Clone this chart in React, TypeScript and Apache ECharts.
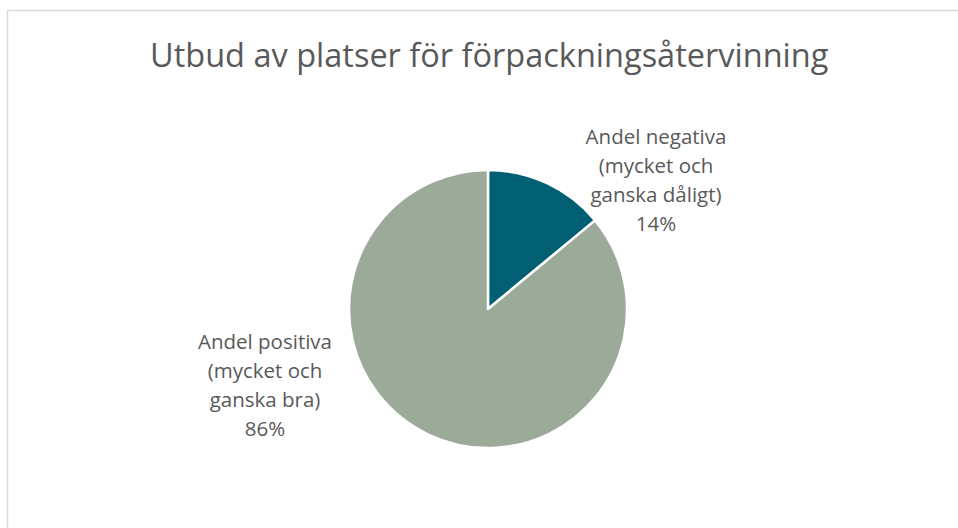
import React, { useEffect, useRef } from "react";
import * as echarts from "echarts";

const TITLE = "Utbud av platser för förpackningsåtervinning";
const categories = [
  "Andel negativa\n(mycket och\nganska dåligt)",
  "Andel positiva\n(mycket och\nganska bra)",
];
const values = [14, 86];
const colors = ["#005F73", "#9BAA99"];
const labelAnchors = [
  [656, 179],
  [265, 384],
];

export default function App() {
  const ref = useRef<HTMLDivElement>(null);
  useEffect(() => {
    if (!ref.current) return;
    const chart = echarts.init(ref.current, null, { renderer: "svg" });
    chart.setOption({
      animation: false,
      backgroundColor: "#ffffff",
      title: {
        text: TITLE,
        left: 145,
        top: 33,
        textStyle: {
          fontFamily: "Open Sans",
          fontSize: 32.5,
          fontWeight: "normal",
          color: "#595959",
        },
      },
      graphic: [
        {
          type: "rect",
          shape: { x: 7.5, y: 10.5, width: 1000, height: 600 },
          style: { fill: "none", stroke: "#d9d9d9", lineWidth: 1.5 },
          silent: true,
        },
      ],
      series: [
        {
          type: "pie",
          center: [488, 309],
          radius: 139,
          startAngle: 90,
          clockwise: true,
          itemStyle: { borderColor: "#ffffff", borderWidth: 2.5 },
          label: {
            show: true,
            position: "outside",
            formatter: "{b}\n{c}%",
            fontFamily: "Open Sans",
            fontSize: 20.5,
            lineHeight: 29,
            color: "#595959",
            align: "center",
          },
          labelLine: { show: false },
          labelLayout: (params: any) => {
            const a = labelAnchors[params.dataIndex];
            return { x: a[0], y: a[1], align: "center", verticalAlign: "middle" };
          },
          data: categories.map((name, i) => ({
            name,
            value: values[i],
            itemStyle: { color: colors[i] },
          })),
        },
      ],
    });
    return () => chart.dispose();
  }, []);
  return (
    <div
      ref={ref}
      style={{ position: "fixed", left: 0, top: 0, width: 958, height: 528 }}
    />
  );
}
